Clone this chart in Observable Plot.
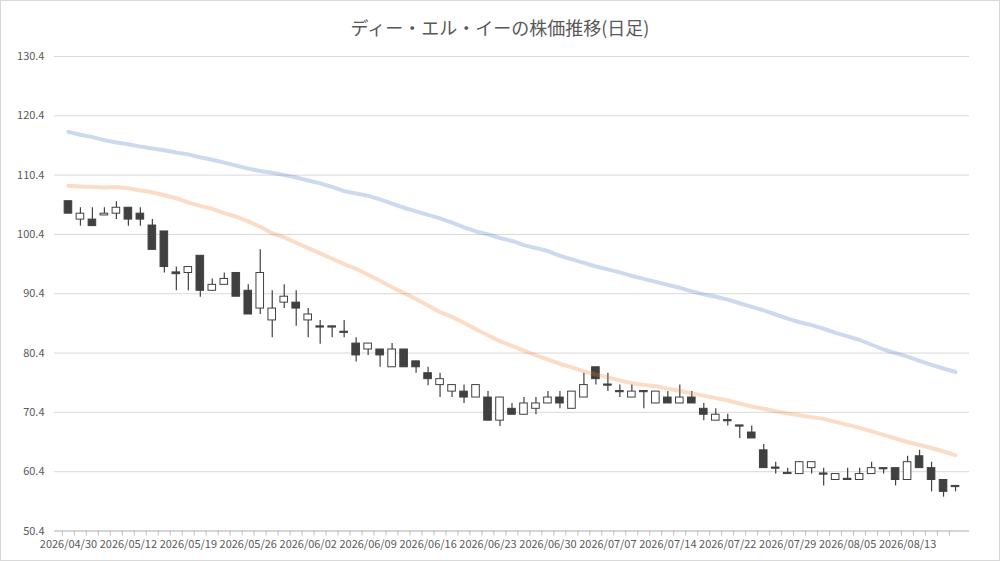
<!DOCTYPE html>
<html><head><meta charset="utf-8">
<script src="https://cdn.jsdelivr.net/npm/d3@7"></script>
<script src="https://cdn.jsdelivr.net/npm/@observablehq/plot@0.6"></script>
<style>
body{margin:0;background:#fff;}
#chart{position:relative;width:998px;height:559px;border:1px solid #d9d9d9;overflow:hidden;font-family:"Noto Sans CJK JP","Noto Sans",sans-serif;background:#fff;}
#title{position:absolute;top:15px;left:0;width:100%;text-align:center;font-size:18px;line-height:22px;color:#595959;}
#plot{position:absolute;top:44px;left:-1px;}
</style></head>
<body>
<div id="chart"><div id="title">ディー・エル・イーの株価推移(日足)</div><div id="plot"></div></div>
<script>
const dates = ["2026/04/30","2026/05/01","2026/05/07","2026/05/08","2026/05/11","2026/05/12","2026/05/13","2026/05/14","2026/05/15","2026/05/18",
"2026/05/19","2026/05/20","2026/05/21","2026/05/22","2026/05/25","2026/05/26","2026/05/27","2026/05/28","2026/05/29","2026/06/01",
"2026/06/02","2026/06/03","2026/06/04","2026/06/05","2026/06/08","2026/06/09","2026/06/10","2026/06/11","2026/06/12","2026/06/15",
"2026/06/16","2026/06/17","2026/06/18","2026/06/19","2026/06/22","2026/06/23","2026/06/24","2026/06/25","2026/06/26","2026/06/29",
"2026/06/30","2026/07/01","2026/07/02","2026/07/03","2026/07/06","2026/07/07","2026/07/08","2026/07/09","2026/07/10","2026/07/13",
"2026/07/14","2026/07/15","2026/07/16","2026/07/17","2026/07/21","2026/07/22","2026/07/23","2026/07/24","2026/07/27","2026/07/28",
"2026/07/29","2026/07/30","2026/07/31","2026/08/03","2026/08/04","2026/08/05","2026/08/06","2026/08/07","2026/08/10","2026/08/12",
"2026/08/13","2026/08/14","2026/08/17","2026/08/18","2026/08/19"];
const open = [106.0,102.9,102.9,103.6,103.9,104.9,103.9,101.9,100.9,94.0,
93.9,96.8,90.9,91.9,93.9,90.9,87.9,85.9,88.9,88.9,
85.9,84.9,84.9,84.0,82.0,81.0,81.0,78.0,81.0,79.0,
77.0,75.0,73.9,73.9,72.9,72.9,69.0,71.0,70.0,71.0,
71.9,72.9,71.0,72.9,78.0,75.1,74.0,72.9,74.0,71.9,
72.9,71.9,72.9,71.0,69.0,69.1,68.2,67.0,64.0,61.1,
60.2,60.0,61.0,60.1,59.0,59.2,59.0,60.0,61.0,61.0,
59.0,63.0,61.0,59.0,58.0];
const high = [106.0,104.9,104.9,104.9,105.9,104.9,104.9,102.9,100.9,94.9,
94.9,96.8,92.9,93.9,93.9,91.9,97.8,90.9,91.9,90.9,
87.9,85.9,84.9,85.9,83.0,82.0,81.0,82.0,81.0,79.0,
78.0,77.0,75.0,75.0,75.0,73.9,72.9,71.9,72.9,72.9,
73.9,73.9,73.9,77.0,78.0,77.0,75.0,75.0,74.0,73.9,
73.9,75.0,73.9,71.9,71.0,70.1,68.2,68.1,65.0,62.0,
61.0,62.0,62.0,61.0,60.0,61.0,61.0,62.0,61.0,61.0,
63.0,64.0,62.0,59.0,58.0];
const low = [103.9,101.8,101.8,103.6,102.9,101.8,101.8,97.8,93.9,90.9,
90.9,89.8,90.9,91.9,89.9,86.9,86.9,83.0,87.9,84.9,
83.0,81.9,83.0,83.0,78.9,80.0,78.0,78.0,78.0,77.0,
74.9,72.9,72.9,71.9,72.9,69.0,68.0,70.0,70.0,70.0,
71.9,71.0,71.0,72.9,75.0,73.9,72.9,72.9,71.0,71.9,
71.9,71.9,71.9,69.0,69.0,68.1,66.0,66.0,61.0,60.0,
60.0,60.0,60.0,58.0,59.0,59.0,59.0,60.0,60.0,58.0,
59.0,61.0,57.0,56.1,57.0];
const close = [103.9,103.9,101.8,103.9,104.9,102.9,102.9,97.8,94.9,93.7,
94.9,90.9,91.9,92.9,89.9,86.9,93.9,87.9,89.9,87.9,
86.9,84.7,84.7,83.8,80.0,82.0,80.0,81.0,78.0,78.0,
76.0,76.0,75.0,72.9,75.0,69.0,72.9,70.0,71.9,71.9,
72.9,71.9,73.9,75.0,76.0,74.9,73.8,73.9,73.8,73.9,
71.9,72.9,71.9,70.0,70.0,68.9,68.0,66.0,61.0,60.9,
60.0,62.0,62.0,59.9,60.0,59.0,60.0,61.0,60.8,59.0,
62.0,61.0,59.0,57.0,57.8];
const ma25 = [108.6,108.5,108.4,108.3,108.4,108.2,107.8,107.5,107.0,106.5,
105.8,105.2,104.7,104.0,103.4,102.6,101.7,100.6,99.9,99.0,
98.1,97.2,96.3,95.4,94.6,93.6,92.6,91.5,90.5,89.5,
88.4,87.3,86.5,85.5,84.4,83.4,82.4,81.6,80.8,80.0,
79.3,78.6,78.0,77.3,76.8,76.3,75.8,75.3,75.0,74.8,
74.4,74.0,73.6,73.2,72.8,72.4,71.9,71.4,71.0,70.6,
70.2,69.9,69.6,69.3,68.8,68.3,67.8,67.2,66.6,66.0,
65.4,64.9,64.4,63.8,63.2];
const ma75 = [117.7,117.2,116.8,116.3,115.9,115.6,115.2,114.9,114.6,114.2,
113.9,113.4,113.0,112.5,112.0,111.5,111.1,110.8,110.4,110.0,
109.5,109.0,108.4,107.7,107.3,106.9,106.3,105.6,104.9,104.3,
103.7,103.1,102.4,101.6,100.9,100.4,99.8,99.3,98.6,98.1,
97.6,96.8,96.2,95.6,95.0,94.5,94.0,93.4,92.9,92.4,
91.9,91.4,90.8,90.3,89.9,89.4,88.8,88.2,87.6,86.9,
86.2,85.6,85.1,84.5,83.8,83.2,82.6,81.8,81.0,80.4,
79.8,79.1,78.4,77.8,77.2];
const yTicks = [50.4,60.4,70.4,80.4,90.4,100.4,110.4,120.4,130.4];
const xTickLabels = ["2026/04/30","2026/05/12","2026/05/19","2026/05/26","2026/06/02","2026/06/09","2026/06/16","2026/06/23","2026/06/30","2026/07/07","2026/07/14","2026/07/22","2026/07/29","2026/08/05","2026/08/13"];

const data = dates.map((d, i) => ({date: d, open: open[i], high: high[i], low: low[i], close: close[i], ma25: ma25[i], ma75: ma75[i]}));
const ups = data.filter(d => d.close >= d.open);
const downs = data.filter(d => d.close < d.open);

const W = 1000, H = 516, mL = 54, mR = 30, mT = 11, mB = 30;
const bw = (W - mL - mR) / dates.length;

const chart = Plot.plot({
  width: W, height: H, marginTop: mT, marginBottom: mB, marginLeft: mL, marginRight: mR,
  style: {fontFamily: '"Noto Sans CJK JP","Noto Sans",sans-serif', fontSize: "11px", color: "#595959", background: "transparent", overflow: "visible"},
  x: {type: "band", domain: dates, padding: 0, label: null},
  y: {domain: [50.4, 130.4], label: null},
  marks: [
    Plot.gridY(yTicks, {stroke: "#d9d9d9", strokeOpacity: 1}),
    Plot.ruleY([50.4], {stroke: "#bfbfbf"}),
    Plot.axisY(yTicks, {tickSize: 0, tickPadding: 10, tickFormat: d3.format(".1f"), label: null, fill: "#595959", fontSize: 11}),
    Plot.axisX(xTickLabels, {tickSize: 0, tickPadding: 9, label: null, fill: "#595959", fontSize: 11}),
    Plot.axisX(dates, {tickSize: 5, tickFormat: () => "", dx: -bw / 2, stroke: "#bfbfbf", label: null}),
    Plot.ruleX(data, {x: "date", y1: "low", y2: "high", stroke: "#404040", strokeWidth: 1.2}),
    Plot.barY(downs, {x: "date", y1: "open", y2: "close", fill: "#404040", stroke: "#404040", insetLeft: 2.2, insetRight: 2.2}),
    Plot.barY(ups, {x: "date", y1: "open", y2: "close", fill: "#ffffff", stroke: "#404040", insetLeft: 2.2, insetRight: 2.2}),
    Plot.line(data, {x: "date", y: "ma25", stroke: "#ED7D31", strokeOpacity: 0.27, strokeWidth: 4, curve: "linear"}),
    Plot.line(data, {x: "date", y: "ma75", stroke: "#4472C4", strokeOpacity: 0.27, strokeWidth: 4, curve: "linear"})
  ]
});
document.getElementById("plot").appendChild(chart);
</script>
</body></html>
